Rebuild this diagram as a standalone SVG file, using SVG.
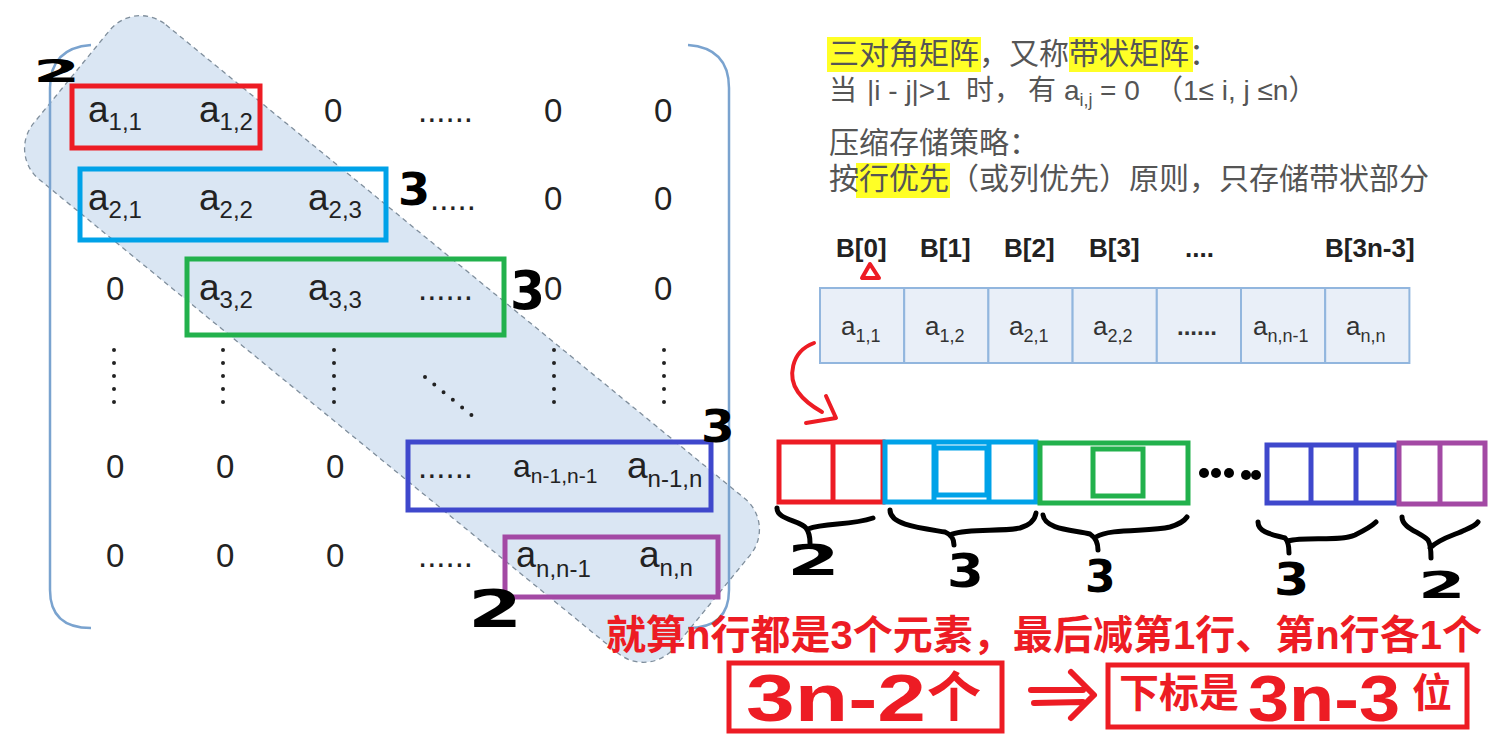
<svg xmlns="http://www.w3.org/2000/svg" width="1497" height="741" viewBox="0 0 1497 741">
<style>
.m{font-family:"Liberation Sans",sans-serif;font-size:33px;fill:#222}
.a{font-size:37px}
.s{font-size:24px}
.c{font-family:"Liberation Sans",sans-serif;font-size:26px;fill:#333}
.cs{font-size:18px}
.cn{font-family:"Liberation Sans","Noto Sans CJK SC",sans-serif;font-size:30px;fill:#555}
.bl{font-family:"Liberation Sans",sans-serif;font-size:26px;font-weight:bold;fill:#222}
.box{fill:none;stroke-width:5}
.hw{font-family:"DejaVu Sans",sans-serif;font-weight:bold;fill:#000}
.br{fill:none;stroke:#000;stroke-width:5;stroke-linecap:round;stroke-linejoin:round}
.vd{stroke:#222;stroke-width:4;stroke-linecap:round;stroke-dasharray:0 13}
.rd{fill:#ed1c24;font-family:"Liberation Sans","Noto Sans CJK SC",sans-serif;font-weight:bold}
.red{stroke:#ed1c24}.cy{stroke:#00a2e8}.gr{stroke:#22b14c}.ind{stroke:#3f48cc}.pu{stroke:#a349a4}
.hl{fill:#ffff26}
.cell{fill:#e9eff8;stroke:#92b6de;stroke-width:2}
</style>

<g id="band">
<rect x="-414" y="-100" width="828" height="200" rx="40" transform="translate(392,339) rotate(39.3)" fill="#dae6f3" stroke="#7f8e9c" stroke-width="1.3" stroke-dasharray="5,4"/>
</g>

<g id="matrix-brackets" fill="none" stroke="#7aa3cf" stroke-width="2.5">
<path d="M91,45 Q50,48 50,88 L50,590 Q50,628 91,628"/>
<path d="M688,45 Q729,48 729,88 L729,590 Q729,628 688,628"/>
</g>

<g id="matrix-text" class="m">
<text x="88" y="122"><tspan class="a">a</tspan><tspan class="s" dy="8">1,1</tspan></text>
<text x="199" y="122"><tspan class="a">a</tspan><tspan class="s" dy="8">1,2</tspan></text>
<text x="324" y="122">0</text>
<text x="418" y="122">......</text>
<text x="544" y="122">0</text>
<text x="654" y="122">0</text>

<text x="88" y="210"><tspan class="a">a</tspan><tspan class="s" dy="8">2,1</tspan></text>
<text x="199" y="210"><tspan class="a">a</tspan><tspan class="s" dy="8">2,2</tspan></text>
<text x="308" y="210"><tspan class="a">a</tspan><tspan class="s" dy="8">2,3</tspan></text>
<text x="430" y="210">.....</text>
<text x="544" y="210">0</text>
<text x="654" y="210">0</text>

<text x="106" y="300">0</text>
<text x="199" y="300"><tspan class="a">a</tspan><tspan class="s" dy="8">3,2</tspan></text>
<text x="308" y="300"><tspan class="a">a</tspan><tspan class="s" dy="8">3,3</tspan></text>
<text x="418" y="300">......</text>
<text x="544" y="300">0</text>
<text x="654" y="300">0</text>

<text x="106" y="478">0</text>
<text x="216" y="478">0</text>
<text x="326" y="478">0</text>
<text x="418" y="478">......</text>
<text x="513" y="477"><tspan style="font-size:32px">a</tspan><tspan style="font-size:21px" dy="6">n-1,n-1</tspan></text>
<text x="627" y="478"><tspan class="a">a</tspan><tspan class="s" dy="9">n-1,n</tspan></text>

<text x="106" y="567">0</text>
<text x="216" y="567">0</text>
<text x="326" y="567">0</text>
<text x="418" y="567">......</text>
<text x="516" y="567"><tspan style="font-size:36px">a</tspan><tspan class="s" dy="10">n,n-1</tspan></text>
<text x="639" y="567"><tspan class="a">a</tspan><tspan class="s" dy="9">n,n</tspan></text>
</g>

<g id="matrix-dots">
<line class="vd" x1="114" y1="350" x2="114" y2="404"/>
<line class="vd" x1="223" y1="350" x2="223" y2="404"/>
<line class="vd" x1="334" y1="350" x2="334" y2="404"/>
<line class="vd" x1="554" y1="350" x2="554" y2="404"/>
<line class="vd" x1="664" y1="350" x2="664" y2="404"/>
<line class="vd" x1="425" y1="377" x2="475" y2="418" style="stroke-dasharray:0 12"/>
</g>

<g id="matrix-boxes" class="box">
<rect class="red" x="72" y="86" width="188" height="62"/>
<rect class="cy" x="80" y="169" width="306" height="71"/>
<rect class="gr" x="187" y="259" width="317" height="76"/>
<rect class="ind" x="408" y="442" width="303" height="68"/>
<rect class="pu" x="505" y="537" width="213" height="60"/>
</g>

<g id="matrix-annotations" class="hw">
<text transform="translate(33,82) scale(2,0.95)" font-size="34">2</text>
<text transform="translate(398,205) scale(1.05,1)" font-size="44">3</text>
<text transform="translate(510,309) scale(1.05,1.1)" font-size="48">3</text>
<text transform="translate(701,442) scale(1.1,1)" font-size="44">3</text>
<text transform="translate(468,627) scale(1.5,1)" font-size="52">2</text>
</g>

<g id="definition">
<rect class="hl" x="827" y="37" width="154" height="35"/>
<rect class="hl" x="1069" y="37" width="124" height="35"/>
<text class="cn" x="829" y="64">三对角矩阵，又称带状矩阵：</text>
<g class="cn" style="font-size:28px">
<text x="829" y="100">当</text>
<text x="867" y="100">|i - j|&gt;1</text>
<text x="966" y="100">时，</text>
<text x="1028" y="100">有</text>
<text x="1064" y="100">a<tspan style="font-size:18px" dy="6">i,j</tspan></text>
<text x="1100" y="100">= 0</text>
<text x="1155" y="100">（1≤ i, j ≤n）</text>
</g>
<text class="cn" x="829" y="153">压缩存储策略：</text>
<rect class="hl" x="856" y="163" width="94" height="35"/>
<text class="cn" x="829" y="189">按行优先（或列优先）原则，只存储带状部分</text>
</g>

<g id="array-labels" class="bl">
<text x="836" y="257">B[0]</text>
<text x="920" y="257">B[1]</text>
<text x="1004" y="257">B[2]</text>
<text x="1089" y="257">B[3]</text>
<text x="1185" y="257">....</text>
<text x="1325" y="257">B[3n-3]</text>
</g>
<g id="pointer-mark">
<path d="M870,264 L862,278 L879,278 Z" fill="none" stroke="#ed1c24" stroke-width="4" stroke-linejoin="round"/>
</g>

<g id="array-B">
<rect class="cell" x="820" y="288" width="84.2" height="75"/>
<rect class="cell" x="904.2" y="288" width="84.2" height="75"/>
<rect class="cell" x="988.4" y="288" width="84.2" height="75"/>
<rect class="cell" x="1072.6" y="288" width="84.2" height="75"/>
<rect class="cell" x="1156.8" y="288" width="84.2" height="75"/>
<rect class="cell" x="1241" y="288" width="84.2" height="75"/>
<rect class="cell" x="1325.2" y="288" width="84.2" height="75"/>
<g class="c">
<text x="841" y="335">a<tspan class="cs" dy="7">1,1</tspan></text>
<text x="925" y="335">a<tspan class="cs" dy="7">1,2</tspan></text>
<text x="1009" y="335">a<tspan class="cs" dy="7">2,1</tspan></text>
<text x="1093" y="335">a<tspan class="cs" dy="7">2,2</tspan></text>
<text x="1177" y="335" style="font-size:24px;font-weight:bold">......</text>
<text x="1253" y="335">a<tspan class="cs" dy="7">n,n-1</tspan></text>
<text x="1346" y="335">a<tspan class="cs" dy="7">n,n</tspan></text>
</g>
</g>

<g id="connectors" fill="none" stroke-linecap="round" stroke-linejoin="round">
<path d="M814,343 C790,352 788,378 798,392 C805,402 815,408 822,412 M826,396 L836,418 L806,423" stroke="#ed1c24" stroke-width="4"/>
<path d="M1031,690 L1083,690 M1034,703 L1083,702 M1071,672 L1094,695 L1071,718" stroke="#ed1c24" stroke-width="6"/>
</g>

<g id="storage-row" class="box">
<rect class="red" x="779" y="442" width="104" height="60"/>
<line class="red" x1="833" y1="442" x2="833" y2="502"/>
<rect class="cy" x="885" y="442" width="151" height="60"/>
<line class="cy" x1="934" y1="442" x2="934" y2="502"/>
<line class="cy" x1="989" y1="442" x2="989" y2="502"/>
<rect class="cy" x="936" y="448" width="51" height="47"/>
<rect class="gr" x="1040" y="443" width="148" height="60"/>
<rect class="gr" x="1093" y="449" width="50" height="47"/>
<rect class="ind" x="1267" y="445" width="130" height="58"/>
<line class="ind" x1="1311" y1="445" x2="1311" y2="503"/>
<line class="ind" x1="1356" y1="445" x2="1356" y2="503"/>
<rect class="pu" x="1399" y="443" width="86" height="61"/>
<line class="pu" x1="1440" y1="443" x2="1440" y2="504"/>
</g>
<g id="storage-dots" fill="#000">
<circle cx="1204" cy="473" r="5"/>
<circle cx="1216" cy="473" r="5"/>
<circle cx="1229" cy="473" r="5"/>
<circle cx="1246" cy="475" r="5"/>
<circle cx="1256" cy="475" r="5"/>
</g>

<g id="braces" class="br">
<path d="M777,508 C777,520 800,520 806,528 C809,532 810,537 810,543 M808,529 C825,522 850,526 873,518"/>
<path d="M890,510 C890,525 920,528 945,532 C952,535 954,540 954,545 M952,534 C970,528 1000,532 1020,528 C1030,525 1035,520 1036,513"/>
<path d="M1043,515 C1045,530 1075,530 1090,534 C1096,538 1098,544 1098,550 M1096,537 C1110,528 1150,532 1170,527 C1180,524 1185,520 1187,517"/>
<path d="M1258,522 C1258,533 1275,535 1285,538 C1289,542 1289,548 1289,553 M1288,541 C1305,536 1340,542 1355,535 C1365,530 1372,526 1376,522"/>
<path d="M1402,517 C1402,528 1420,532 1428,540 C1431,545 1431,552 1431,558 M1430,548 C1440,538 1455,535 1465,530 C1472,527 1476,525 1478,522"/>
</g>
<g id="brace-counts" class="hw">
<text transform="translate(787,575) scale(2,1.1)" font-size="38">2</text>
<text transform="translate(947,587) scale(1.15,1)" font-size="46">3</text>
<text transform="translate(1085,592) scale(1,1)" font-size="44">3</text>
<text transform="translate(1274,595) scale(1.15,1)" font-size="44">3</text>
<text transform="translate(1418,598) scale(1.8,1)" font-size="38">2</text>
</g>

<g id="conclusion">
<text class="rd" x="606" y="649" font-size="40" textLength="876" lengthAdjust="spacingAndGlyphs">就算n行都是3个元素，最后减第1行、第n行各1个</text>
<rect class="box red" x="729" y="663" width="273" height="68"/>
<text class="rd" x="746" y="721" font-size="66" textLength="180" lengthAdjust="spacingAndGlyphs" style="font-family:'Liberation Sans',sans-serif">3n-2</text>
<text class="rd" x="927" y="717" font-size="54" style="font-family:'Noto Sans CJK SC',sans-serif">个</text>
<rect class="box red" x="1108" y="665" width="359" height="62"/>
<text class="rd" x="1119" y="707" font-size="40">下标是</text>
<text class="rd" x="1248" y="721" font-size="64" textLength="152" lengthAdjust="spacingAndGlyphs" style="font-family:'Liberation Sans',sans-serif">3n-3</text>
<text class="rd" x="1412" y="707" font-size="40">位</text>
</g>
</svg>
